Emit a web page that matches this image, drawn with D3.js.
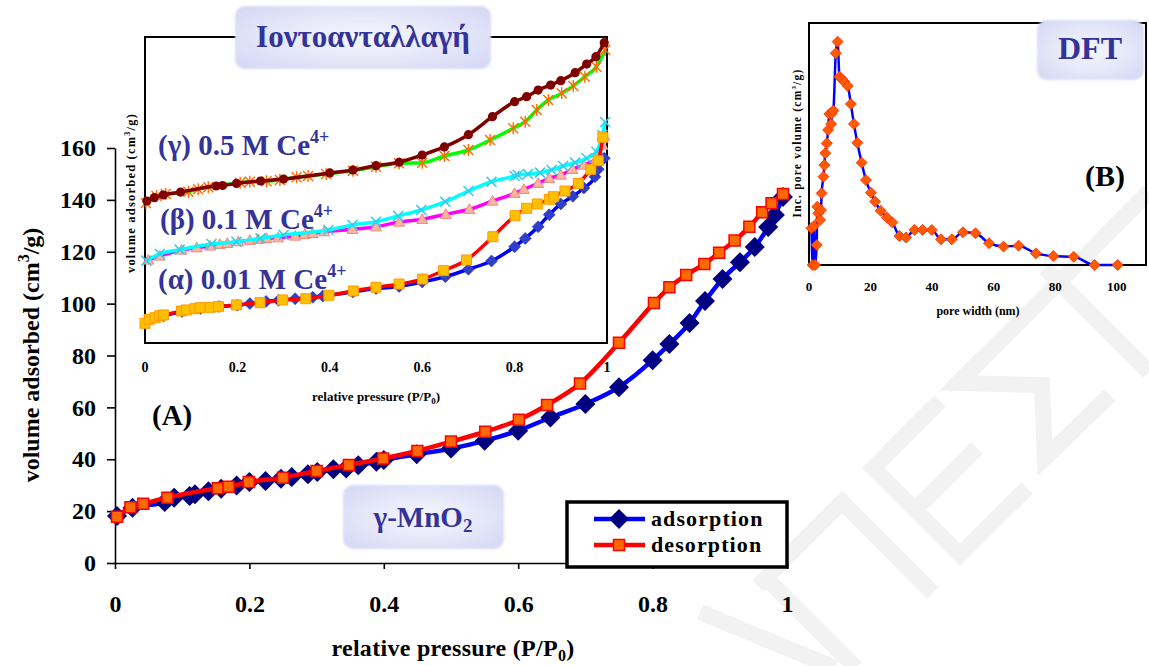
<!DOCTYPE html>
<html>
<head>
<meta charset="utf-8">
<script src="https://cdn.jsdelivr.net/npm/d3@7"></script>
<style>
  body { margin: 0; background: #fff; }
  svg { display: block; }
  text { font-family: "Liberation Serif", "Times New Roman", serif; font-weight: bold; }
</style>
</head>
<body>
<svg id="chart" width="1149" height="666"></svg>
<script>
// ---------- main isotherm: γ-MnO2, volume adsorbed (cm3/g) vs P/P0 ----------
const adsorption = [
  [0.003,18.1],[0.026,21.3],[0.074,23.5],[0.088,25.2],[0.111,25.8],[0.119,26.5],
  [0.139,27.7],[0.158,28.6],[0.181,29.9],[0.200,31.2],[0.224,31.6],[0.247,32.5],
  [0.263,33.2],[0.287,34.2],[0.301,35.1],[0.325,36.1],[0.344,36.4],[0.362,37.7],
  [0.389,39.0],[0.400,39.7],[0.449,41.9],[0.500,44.1],[0.550,47.1],[0.600,51.0],
  [0.648,56.1],[0.700,61.3],[0.750,67.8],[0.800,78.2],[0.825,84.4],[0.855,92.5],
  [0.878,101.0],[0.904,109.5],[0.930,116.0],[0.952,121.8],[0.972,129.5],
  [0.982,134.2],[0.994,141.1]
];
const desorption = [
  [0.003,17.8],[0.023,21.5],[0.042,22.8],[0.078,25.2],[0.153,28.8],[0.169,29.4],
  [0.199,31.2],[0.250,32.9],[0.300,35.5],[0.348,37.8],[0.399,40.3],[0.450,43.2],
  [0.500,46.8],[0.551,50.6],[0.601,55.2],[0.643,60.9],[0.692,69.2],[0.750,84.9],
  [0.802,100.2],[0.825,106.3],[0.850,111.0],[0.877,115.3],[0.899,119.6],
  [0.922,124.3],[0.944,129.6],[0.963,135.2],[0.977,138.7],[0.994,142.3]
];
const pressureTicks = [0, 0.2, 0.4, 0.6, 0.8, 1];
const volumeTicks = [0, 20, 40, 60, 80, 100, 120, 140, 160];

// ---------- inset (A): ion-exchanged samples, stacked isotherms ----------
const gammaAds = [
  [0.002,137.3],[0.025,144.1],[0.045,146.1],[0.094,148.3],[0.115,150.7],[0.137,152.6],
  [0.206,157.2],[0.227,158.0],[0.263,158.5],[0.292,159.8],[0.328,162.5],[0.353,163.7],
  [0.392,165.7],[0.450,168.9],[0.500,172.8],[0.550,176.2],[0.600,176.8],[0.648,183.3],
  [0.700,189.2],[0.747,199.0],[0.797,210.5],[0.823,217.0],[0.848,228.4],[0.873,238.2],
  [0.902,244.8],[0.927,252.0],[0.952,261.1],[0.977,270.9],[0.996,287.3]
];
const gammaDes = [
  [0.004,139.2],[0.020,142.5],[0.040,145.1],[0.077,148.0],[0.154,153.9],[0.168,154.4],
  [0.198,156.4],[0.250,158.8],[0.300,160.8],[0.400,166.7],[0.450,169.6],[0.500,173.8],
  [0.550,177.2],[0.600,184.3],[0.648,192.2],[0.700,204.2],[0.752,221.9],[0.800,236.6],
  [0.826,241.5],[0.851,248.0],[0.878,252.9],[0.900,257.2],[0.931,265.0],[0.956,273.5],
  [0.976,280.7],[0.994,294.4]
];
const betaAds = [
  [0.003,80.7],[0.032,87.3],[0.075,91.5],[0.144,97.1],[0.198,99.3],[0.250,102.6],
  [0.300,105.9],[0.397,110.8],[0.449,115.7],[0.500,118.9],[0.548,124.5],[0.598,130.4],
  [0.650,138.5],[0.700,149.0],[0.750,158.1],[0.800,163.7],[0.807,164.7],[0.829,165.7],
  [0.855,167.0],[0.880,169.6],[0.905,173.5],[0.931,176.8],[0.956,181.1],[0.977,187.5],
  [0.990,203.9],[0.996,216.7]
];
const betaDes = [
  [0.007,81.4],[0.032,85.3],[0.079,91.2],[0.112,93.4],[0.141,95.1],[0.162,96.8],
  [0.178,97.7],[0.202,99.3],[0.227,100.7],[0.245,101.7],[0.263,102.6],[0.288,103.2],
  [0.325,104.9],[0.346,106.6],[0.363,107.5],[0.388,109.1],[0.449,111.5],[0.500,114.0],
  [0.550,118.6],[0.600,121.3],[0.651,126.2],[0.702,131.1],[0.752,139.2],[0.800,146.8],
  [0.820,150.7],[0.851,156.6],[0.875,161.5],[0.900,164.7],[0.925,170.3],[0.950,174.5],
  [0.977,181.1],[0.983,186.0],[0.990,194.1],[0.994,202.9]
];
const alphaAds = [
  [0.005,20.6],[0.040,26.5],[0.080,30.9],[0.120,33.8],[0.160,35.8],[0.200,37.1],
  [0.227,38.7],[0.262,40.7],[0.289,41.9],[0.325,43.4],[0.363,44.9],[0.385,46.1],
  [0.450,50.0],[0.500,53.4],[0.550,55.4],[0.600,59.8],[0.650,65.0],[0.700,72.3],
  [0.750,80.4],[0.800,94.4],[0.823,102.5],[0.851,114.0],[0.875,125.7],[0.900,136.3],
  [0.926,143.8],[0.950,152.0],[0.974,163.0],[0.981,170.3],[0.994,181.1]
];
const alphaDes = [
  [0.000,19.3],[0.009,23.2],[0.022,24.8],[0.032,26.8],[0.040,27.5],[0.079,31.4],
  [0.090,32.4],[0.108,33.6],[0.119,34.6],[0.141,35.0],[0.159,35.6],[0.198,37.3],
  [0.249,39.5],[0.298,42.2],[0.348,43.4],[0.398,46.8],[0.451,51.0],[0.500,54.6],
  [0.550,57.8],[0.601,62.7],[0.646,70.9],[0.696,81.4],[0.753,104.2],[0.801,124.8],
  [0.826,132.1],[0.849,136.3],[0.875,140.9],[0.884,143.4],[0.909,149.0],[0.938,156.4],
  [0.965,170.3],[0.981,178.7],[0.991,201.7]
];

// ---------- inset (B): DFT pore size distribution ----------
const poreWidth = [
  [0.8,0.152],[1.2,0.0],[1.6,0.161],[2.0,0.0],[2.5,0.083],[2.7,0.241],[3.0,0.214],
  [3.6,0.186],[3.9,0.227],[4.1,0.296],[4.7,0.365],[5.0,0.413],[5.3,0.462],[5.8,0.503],
  [6.2,0.558],[6.6,0.624],[7.2,0.583],[7.4,0.627],[7.9,0.638],[8.7,0.875],[9.3,0.923],
  [9.9,0.778],[10.6,0.770],[11.5,0.757],[12.6,0.740],[13.6,0.665],[14.6,0.583],
  [15.7,0.505],[17.1,0.423],[18.5,0.351],[20.1,0.299],[21.5,0.262],[23.3,0.224],
  [25.3,0.196],[27.1,0.176],[29.4,0.120],[31.5,0.114],[34.3,0.145],[36.9,0.145],
  [39.9,0.145],[42.9,0.106],[46.4,0.106],[50.0,0.135],[54.1,0.131],[58.5,0.090],
  [63.2,0.076],[68.1,0.080],[73.7,0.048],[79.4,0.037],[86.0,0.034],[92.8,0.0],[100.3,0.0]
];
const poreTicks = [0, 20, 40, 60, 80, 100];

// ---------- shared styling ----------
const labelBlue = "#333399";
const svg = d3.select("#chart");
const defs = svg.append("defs");
const grad = defs.append("radialGradient").attr("id", "lav").attr("cx", "50%").attr("cy", "50%").attr("r", "65%");
grad.append("stop").attr("offset", "0%").attr("stop-color", "#f7f8fe");
grad.append("stop").attr("offset", "100%").attr("stop-color", "#d6d9f5");
defs.append("filter").attr("id", "soft").append("feGaussianBlur").attr("stdDeviation", 1.2);

// marker shapes
const diamond = h => `M0,${-h}L${h},0L0,${h}L${-h},0Z`;
const square = s => `M${-s},${-s}h${2 * s}v${2 * s}h${-2 * s}Z`;
const triangle = s => `M0,${-s}L${s},${s * 0.75}L${-s},${s * 0.75}Z`;
const star = s => `M${-s},${-s}L${s},${s}M${s},${-s}L${-s},${s}M0,${-s * 1.2}V${s * 1.2}`;
const cross = s => `M${-s},${-s}L${s},${s}M${s},${-s}L${-s},${s}`;

function series(g, data, sx, sy, o) {
  const line = d3.line().x(d => sx(d[0])).y(d => sy(d[1])).curve(d3.curveMonotoneX);
  g.append("path").attr("d", line(data)).attr("fill", "none")
    .attr("stroke", o.line).attr("stroke-width", o.lw).attr("stroke-linejoin", "round");
  g.append("g").selectAll("path").data(data).join("path")
    .attr("transform", d => `translate(${sx(d[0])},${sy(d[1])})`)
    .attr("d", o.shape)
    .attr("fill", o.fill || "none")
    .attr("stroke", o.stroke || "none")
    .attr("stroke-width", o.sw || 0);
}

// faint background watermark strokes
const watermark = [
  [[700, 612], [835, 668]],
  [[758, 586], [842, 502], [933, 593]],
  [[766, 578], [856, 668]],
  [[940, 401], [873, 468], [960, 555], [1027, 488]],
  [[915, 510], [977, 448]],
  [[1149, 192], [958, 383], [1042, 385], [1045, 458], [1110, 395]],
  [[1045, 268], [1149, 372]]
];
svg.append("g").selectAll("path").data(watermark).join("path")
  .attr("d", d3.line())
  .attr("fill", "none").attr("stroke", "#f2f2f2").attr("stroke-width", 16)
  .attr("stroke-linejoin", "miter");

// ================= main chart =================
const x = d3.scaleLinear().domain([0, 1]).range([115, 787]);
const y = d3.scaleLinear().domain([0, 160]).range([563, 148]);
const main = svg.append("g");

const xAxis = main.append("g").attr("transform", "translate(0,563)")
  .call(d3.axisBottom(x).tickValues(pressureTicks).tickSize(6).tickSizeOuter(0)
    .tickPadding(26).tickFormat(d3.format("~g")));
const yAxis = main.append("g").attr("transform", "translate(115,0)")
  .call(d3.axisLeft(y).tickValues(volumeTicks).tickSize(8).tickSizeOuter(0).tickPadding(11));
[xAxis, yAxis].forEach(a => {
  a.attr("font-family", null).attr("font-size", null);
  a.selectAll("path,line").attr("stroke", "#000").attr("stroke-width", 1.6);
  a.selectAll("text").attr("font-size", 24).attr("fill", "#000");
});

main.append("text").attr("x", 453).attr("y", 656).attr("text-anchor", "middle")
  .attr("font-size", 24).attr("letter-spacing", 0.3)
  .call(t => { t.append("tspan").text("relative pressure (P/P");
               t.append("tspan").attr("font-size", 16).attr("dy", 5).text("0");
               t.append("tspan").attr("dy", -5).text(")"); });
main.append("text").attr("transform", "translate(39,355) rotate(-90)").attr("text-anchor", "middle")
  .attr("font-size", 24)
  .call(t => { t.append("tspan").text("volume adsorbed (cm");
               t.append("tspan").attr("font-size", 16).attr("dy", -10).text("3");
               t.append("tspan").attr("dy", 10).text("/g)"); });

series(main, adsorption, x, y, { line: "#0000ff", lw: 4.5, shape: diamond(10), fill: "#000080" });
series(main, desorption, x, y, { line: "#ff0000", lw: 4.5, shape: square(5.5), fill: "#ff6a00", stroke: "#ff0000", sw: 1.5 });

main.append("text").attr("x", 152).attr("y", 425).attr("font-size", 29).text("(A)");

// γ-MnO2 label box
main.append("rect").attr("x", 343).attr("y", 485).attr("width", 161).attr("height", 64)
  .attr("rx", 10).attr("fill", "url(#lav)").attr("filter", "url(#soft)");
main.append("text").attr("x", 423).attr("y", 527).attr("text-anchor", "middle")
  .attr("font-size", 29).attr("fill", labelBlue)
  .call(t => { t.append("tspan").text("γ-MnO");
               t.append("tspan").attr("font-size", 19).attr("dy", 5).text("2"); });

// legend
const legend = main.append("g");
legend.append("rect").attr("x", 567).attr("y", 502).attr("width", 220).attr("height", 65)
  .attr("fill", "#fff").attr("stroke", "#000").attr("stroke-width", 3.5);
const legendItems = [
  { name: "adsorption", yy: 519, line: "#0000ff", shape: diamond(10), fill: "#000080" },
  { name: "desorption", yy: 545, line: "#ff0000", shape: square(5.5), fill: "#ff6a00", stroke: "#ff0000", sw: 1.5 }
];
legendItems.forEach(it => {
  legend.append("line").attr("x1", 594).attr("x2", 645).attr("y1", it.yy).attr("y2", it.yy)
    .attr("stroke", it.line).attr("stroke-width", 4.5);
  legend.append("path").attr("transform", `translate(619,${it.yy})`).attr("d", it.shape)
    .attr("fill", it.fill).attr("stroke", it.stroke || "none").attr("stroke-width", it.sw || 0);
  legend.append("text").attr("x", 651).attr("y", it.yy + 7).attr("font-size", 22)
    .attr("letter-spacing", 1.1).text(it.name);
});

// ================= inset (A) =================
const ax = d3.scaleLinear().domain([0, 1]).range([145, 607]);
const ay = d3.scaleLinear().domain([0, 300]).range([343, 37]);
const insetA = svg.append("g");
insetA.append("rect").attr("x", 145).attr("y", 37).attr("width", 462).attr("height", 306)
  .attr("fill", "#fff").attr("stroke", "#000").attr("stroke-width", 2);

series(insetA, gammaAds, ax, ay, { line: "#00ff00", lw: 3.5, shape: star(5), stroke: "#ff6a00", sw: 1.4 });
series(insetA, gammaDes, ax, ay, { line: "#800000", lw: 3.5, shape: "M-4.6,0a4.6,4.6 0 1,0 9.2,0a4.6,4.6 0 1,0 -9.2,0", fill: "#800000" });
series(insetA, betaDes, ax, ay, { line: "#ff00ff", lw: 3.5, shape: triangle(5.5), fill: "#f9b4a4", stroke: "#f08878", sw: 1 });
series(insetA, betaAds, ax, ay, { line: "#00ffff", lw: 3.5, shape: cross(5), stroke: "#33ccee", sw: 1.6 });
series(insetA, alphaAds, ax, ay, { line: "#0000ff", lw: 3.5, shape: diamond(6), fill: "#2f3fc8", stroke: "#1a2aa8", sw: 0.5 });
series(insetA, alphaDes, ax, ay, { line: "#ff0000", lw: 3.5, shape: square(5), fill: "#ffc000", stroke: "#ff9900", sw: 1 });

insetA.append("g").selectAll("text").data(pressureTicks).join("text")
  .attr("x", d => ax(d)).attr("y", 372).attr("text-anchor", "middle").attr("font-size", 14)
  .text(d3.format("~g"));
insetA.append("text").attr("x", 376).attr("y", 401).attr("text-anchor", "middle").attr("font-size", 13)
  .call(t => { t.append("tspan").text("relative pressure (P/P");
               t.append("tspan").attr("font-size", 9).attr("dy", 3).text("0");
               t.append("tspan").attr("dy", -3).text(")"); });
insetA.append("text").attr("transform", "translate(135,193) rotate(-90)").attr("text-anchor", "middle")
  .attr("font-size", 12.5).attr("letter-spacing", 1.2)
  .call(t => { t.append("tspan").text("volume adsorbed (cm");
               t.append("tspan").attr("font-size", 8).attr("dy", -5).text("3");
               t.append("tspan").attr("dy", 5).text("/g)"); });

const sampleLabels = [
  { greek: "(γ) 0.5 M Ce", yy: 155, xx: 158 },
  { greek: "(β) 0.1 M Ce", yy: 229, xx: 160 },
  { greek: "(α) 0.01 M Ce", yy: 289, xx: 158 }
];
insetA.append("g").selectAll("text").data(sampleLabels).join("text")
  .attr("x", d => d.xx).attr("y", d => d.yy).attr("font-size", 29).attr("fill", labelBlue)
  .each(function (d) {
    const t = d3.select(this);
    t.append("tspan").text(d.greek);
    t.append("tspan").attr("font-size", 18).attr("dy", -12).text("4+");
  });

// title box over the inset frame
insetA.append("rect").attr("x", 235).attr("y", 6).attr("width", 256).attr("height", 63)
  .attr("rx", 10).attr("fill", "url(#lav)").attr("filter", "url(#soft)");
insetA.append("text").attr("x", 363).attr("y", 47).attr("text-anchor", "middle")
  .attr("font-size", 31).attr("fill", labelBlue).text("Ιοντοανταλλαγή");

// ================= inset (B) =================
const bx = d3.scaleLinear().domain([0, 109.5]).range([809, 1146]);
const by = d3.scaleLinear().domain([0, 1]).range([265, 23]);
const insetB = svg.append("g");
insetB.append("rect").attr("x", 809).attr("y", 23).attr("width", 337).attr("height", 242)
  .attr("fill", "none").attr("stroke", "#000").attr("stroke-width", 2);
series(insetB, poreWidth, bx, by, { line: "#0000ff", lw: 2.5, shape: diamond(5.5), fill: "#ff5a00", stroke: "#ff2a00", sw: 0.8 });

insetB.append("g").selectAll("text").data(poreTicks).join("text")
  .attr("x", d => bx(d)).attr("y", 291).attr("text-anchor", "middle").attr("font-size", 13)
  .text(d => d);
insetB.append("text").attr("x", 978).attr("y", 315).attr("text-anchor", "middle")
  .attr("font-size", 12).text("pore width (nm)");
insetB.append("text").attr("transform", "translate(801,143) rotate(-90)").attr("text-anchor", "middle")
  .attr("font-size", 11.5).attr("letter-spacing", 1.2)
  .call(t => { t.append("tspan").text("Inc. pore volume (cm");
               t.append("tspan").attr("font-size", 7).attr("dy", -5).text("3");
               t.append("tspan").attr("dy", 5).text("/g)"); });
insetB.append("text").attr("x", 1085).attr("y", 186).attr("font-size", 30).text("(B)");

insetB.append("rect").attr("x", 1037).attr("y", 20).attr("width", 107).attr("height", 60)
  .attr("rx", 10).attr("fill", "url(#lav)").attr("filter", "url(#soft)");
insetB.append("text").attr("x", 1090).attr("y", 59).attr("text-anchor", "middle")
  .attr("font-size", 32).attr("fill", labelBlue).text("DFT");
</script>
</body>
</html>
